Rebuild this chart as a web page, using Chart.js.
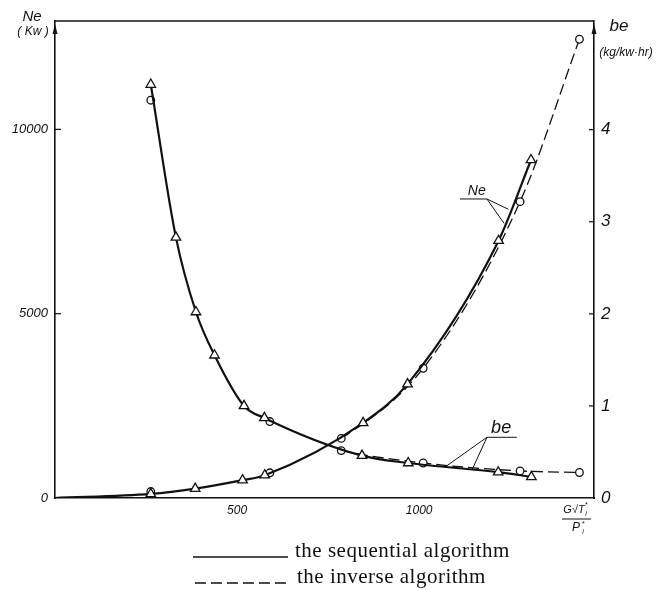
<!DOCTYPE html>
<html>
<head>
<meta charset="utf-8">
<script src="https://cdn.jsdelivr.net/npm/chart.js@4"></script>
<style>
  html, body { margin: 0; padding: 0; background: #fff; }
  canvas { display: block; }
</style>
</head>
<body>
<canvas id="chart" width="669" height="590"></canvas>
<script>
// values (x = G*sqrt(T)/P)
const seqNeX = [0, 263, 385, 515, 576, 846, 968, 1218, 1307];
const seqNe  = [0, 110, 255, 483, 619, 2040, 3090, 6980, 9170];
const seqBeX = [263, 332, 387, 438, 519, 575, 843, 970, 1217, 1308];
const seqBe  = [4.49, 2.83, 2.02, 1.55, 1.00, 0.87, 0.46, 0.38, 0.28, 0.23];
const invX   = [263, 590, 786, 1011, 1277, 1440];
const invNe  = [175, 684, 1617, 3520, 8040, 12445];
const invBe  = [4.32, 0.83, 0.515, 0.38, 0.294, 0.277];
const xTicks  = [500, 1000];
const neTicks = [0, 5000, 10000];
const beTicks = [0, 1, 2, 3, 4];

const ink = '#111';
const hand = 'Liberation Sans';

function toPts(xs, ys) {
    return xs.map((x, i) => ({x: x, y: ys[i]}));
}

// frame, notes and legend drawn on top
const decor = {
    id: 'decor',
    afterDraw(chart) {
        const {ctx, chartArea: a, scales} = chart;
        const sx = scales.x, sy = scales.yNe, sb = scales.yBe;
        const P = (x, y) => [sx.getPixelForValue(x), sy.getPixelForValue(y)];
        const line = (x1, y1, x2, y2) => {
            ctx.beginPath(); ctx.moveTo(x1, y1); ctx.lineTo(x2, y2); ctx.stroke();
        };
        ctx.save();
        ctx.strokeStyle = ink;
        ctx.fillStyle = ink;

        // top frame
        ctx.lineWidth = 1.6;
        line(a.left, a.top, a.right, a.top);

        // ticks pointing inside
        ctx.lineWidth = 1.2;
        neTicks.slice(1).forEach(v => {
            const py = sy.getPixelForValue(v);
            line(a.left, py, a.left + 6, py);
        });
        beTicks.slice(1).forEach(v => {
            const py = sb.getPixelForValue(v);
            line(a.right - 5, py, a.right, py);
        });

        // small arrows on the axes
        [a.left, a.right].forEach(px => {
            ctx.beginPath();
            ctx.moveTo(px, a.top + 3);
            ctx.lineTo(px - 2.5, a.top + 13);
            ctx.lineTo(px + 2.5, a.top + 13);
            ctx.closePath();
            ctx.fill();
        });

        // axis names
        ctx.textAlign = 'center';
        ctx.textBaseline = 'middle';
        ctx.font = 'italic 15px ' + hand;
        ctx.fillText('Ne', a.left - 23, 17);
        ctx.font = 'italic 12px ' + hand;
        ctx.fillText('( Kw )', a.left - 22, 32);
        ctx.font = 'italic 17px ' + hand;
        ctx.fillText('be', a.right + 25, 26);
        ctx.font = 'italic 12px ' + hand;
        ctx.fillText('(kg/kw\u00b7hr)', a.right + 32, 53);

        // x axis name as fraction
        const fx = a.right - 17;
        ctx.font = 'italic 11px ' + hand;
        ctx.fillText('G\u221AT', fx - 3, 510);
        ctx.font = 'italic 7px ' + hand;
        ctx.fillText('*', fx + 9, 505);
        ctx.fillText('i', fx + 9, 514);
        ctx.lineWidth = 1;
        line(fx - 15, 519, fx + 14, 519);
        ctx.font = 'italic 12px ' + hand;
        ctx.fillText('P', fx - 1, 528);
        ctx.font = 'italic 7px ' + hand;
        ctx.fillText('*', fx + 6, 524);
        ctx.fillText('i', fx + 6, 532);

        // curve notes
        ctx.lineWidth = 1;
        ctx.font = 'italic 14px ' + hand;
        let p = P(1158, 8330);
        ctx.fillText('Ne', p[0], p[1]);
        let u0 = P(1112, 8112), u1 = P(1186, 8112);
        line(u0[0], u0[1], u1[0], u1[1]);
        [[1245, 7832], [1233, 7452]].forEach(t => {
            const q = P(t[0], t[1]);
            line(u1[0], u1[1], q[0], q[1]);
        });
        ctx.font = 'italic 18px ' + hand;
        p = P(1225, 1900);
        ctx.fillText('be', p[0], p[1]);
        u0 = P(1186, 1647); u1 = P(1268, 1647);
        line(u0[0], u0[1], u1[0], u1[1]);
        [[1076, 876], [1145, 760]].forEach(t => {
            const q = P(t[0], t[1]);
            line(u0[0], u0[1], q[0], q[1]);
        });

        // legend below the plot
        const items = [chart.data.datasets[0], chart.data.datasets[2]];
        ctx.textAlign = 'left';
        ctx.textBaseline = 'alphabetic';
        ctx.font = '21px "Liberation Serif"';
        ctx.letterSpacing = '0.5px';
        items.forEach((ds, i) => {
            const y = 557 + i * 26;
            ctx.lineWidth = 1.3;
            ctx.setLineDash(ds.borderDash || []);
            line(193 + i * 2, y, 288 + i * 2, y);
            ctx.setLineDash([]);
            ctx.fillText(ds.label, 295 + i * 2, y);
        });
        ctx.restore();
    }
};

const plain = v => String(v);
// the dashed curves run under the solid ones for their first pieces
const hideFirst = n => ({
    borderColor: c => c.p0DataIndex < n ? 'rgba(0,0,0,0)' : ink
});

const ctx = document.getElementById('chart').getContext('2d');
const myChart = new Chart(ctx, {
    type: 'line',
    data: {
        datasets: [{
            label: 'the sequential algorithm',
            data: toPts(seqNeX, seqNe),
            yAxisID: 'yNe',
            borderColor: ink,
            borderWidth: 2.2,
            pointStyle: 'triangle',
            pointRadius: c => c.dataIndex === 0 ? 0 : 5.5,
            pointBackgroundColor: '#fff',
            pointBorderColor: ink,
            pointBorderWidth: 1.3,
            cubicInterpolationMode: 'monotone'
        }, {
            label: 'be sequential',
            data: toPts(seqBeX, seqBe),
            yAxisID: 'yBe',
            borderColor: ink,
            borderWidth: 2.2,
            pointStyle: 'triangle',
            pointRadius: 5.5,
            pointBackgroundColor: '#fff',
            pointBorderColor: ink,
            pointBorderWidth: 1.3,
            cubicInterpolationMode: 'monotone'
        }, {
            label: 'the inverse algorithm',
            data: toPts(invX, invNe),
            yAxisID: 'yNe',
            borderColor: ink,
            borderWidth: 1.3,
            borderDash: [11, 5],
            pointStyle: 'circle',
            pointRadius: 3.8,
            pointBackgroundColor: '#fff',
            pointBorderColor: ink,
            pointBorderWidth: 1.3,
            cubicInterpolationMode: 'monotone',
            segment: hideFirst(2)
        }, {
            label: 'be inverse',
            data: toPts(invX, invBe),
            yAxisID: 'yBe',
            borderColor: ink,
            borderWidth: 1.3,
            borderDash: [11, 5],
            pointStyle: 'circle',
            pointRadius: 3.8,
            pointBackgroundColor: '#fff',
            pointBorderColor: ink,
            pointBorderWidth: 1.3,
            cubicInterpolationMode: 'monotone',
            segment: hideFirst(2)
        }]
    },
    options: {
        responsive: false,
        animation: false,
        layout: {padding: {top: 21, left: 0, right: 0, bottom: 0}},
        plugins: {
            legend: {display: false},
            tooltip: {enabled: false}
        },
        scales: {
            x: {
                type: 'linear',
                min: 0,
                max: 1480,
                grid: {display: false, drawTicks: false},
                border: {display: true, color: ink, width: 1.6},
                afterBuildTicks: s => { s.ticks = xTicks.map(v => ({value: v})); },
                afterFit: s => { s.height = 92; },
                ticks: {padding: 5, color: ink, callback: plain,
                        font: {family: hand, size: 12, style: 'italic'}}
            },
            yNe: {
                type: 'linear',
                position: 'left',
                min: 0,
                max: 12940,
                grid: {display: false, drawTicks: false},
                border: {display: true, color: ink, width: 1.6},
                afterBuildTicks: s => { s.ticks = neTicks.map(v => ({value: v})); },
                afterFit: s => { s.width = 55; },
                ticks: {padding: 7, color: ink, callback: plain,
                        font: {family: hand, size: 13, style: 'italic'}}
            },
            yBe: {
                type: 'linear',
                position: 'right',
                min: 0,
                max: 5.18,
                grid: {display: false, drawTicks: false},
                border: {display: true, color: ink, width: 1.6},
                afterBuildTicks: s => { s.ticks = beTicks.map(v => ({value: v})); },
                afterFit: s => { s.width = 75; },
                ticks: {padding: 7, color: ink, callback: plain,
                        font: {family: hand, size: 17, style: 'italic'}}
            }
        }
    },
    plugins: [decor]
});
</script>
</body>
</html>
